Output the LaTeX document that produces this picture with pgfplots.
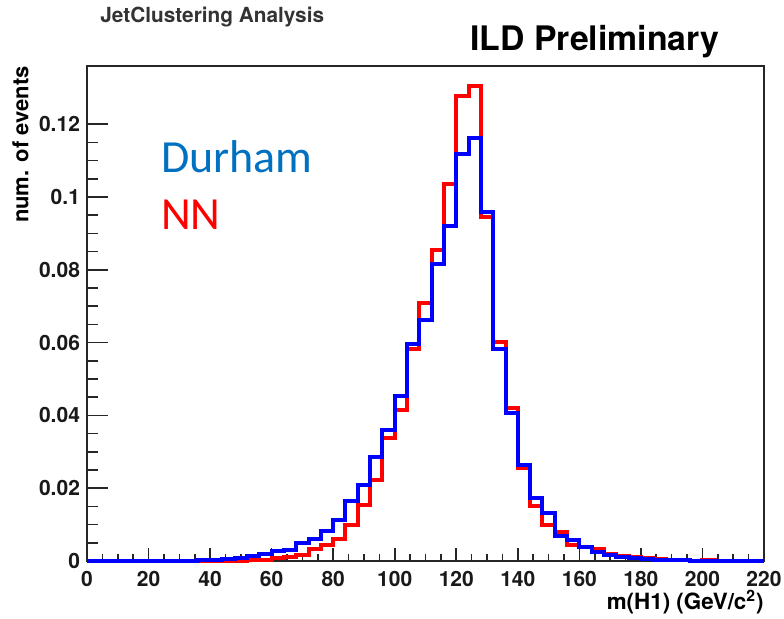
\documentclass[border=0pt]{standalone}
\usepackage{pgfplots}
\pgfplotsset{compat=1.18}
\usepackage{pgfplotstable}
\usepackage{fontspec}
\setmainfont{TeX Gyre Heros}
\newfontfamily\calib{Carlito}
\definecolor{durham}{RGB}{0,112,192}
\definecolor{nnred}{RGB}{255,0,0}
\definecolor{hblue}{RGB}{0,0,255}

\pgfplotstableread{
x red blue
0 0 0
4 0 0
8 0 0
12 0 0
16 0 0
20 0 0
24 0 0
28 0 0.0001
32 0 0.0001
36 0 0.0002
40 0 0.0003
44 0 0.0006
48 0.0001 0.0008
52 0.0003 0.0014
56 0.0004 0.0018
60 0.0008 0.0028
64 0.0011 0.0030
68 0.0016 0.0050
72 0.0033 0.0060
76 0.0044 0.0083
80 0.0060 0.0113
84 0.0099 0.0166
88 0.0154 0.0209
92 0.0223 0.0287
96 0.0338 0.0360
100 0.0415 0.0452
104 0.0582 0.0596
108 0.0709 0.0663
112 0.0855 0.0817
116 0.1036 0.0920
120 0.1277 0.1117
124 0.1304 0.1163
128 0.0945 0.0958
132 0.0603 0.0582
136 0.0420 0.0406
140 0.0256 0.0264
144 0.0151 0.0172
148 0.0099 0.0131
152 0.0081 0.0069
156 0.0044 0.0058
160 0.0038 0.0039
164 0.0032 0.0026
168 0.0019 0.0017
172 0.0015 0.0012
176 0.0011 0.0008
180 0.0007 0.0006
184 0.0005 0.0004
188 0.0003 0.0003
192 0.0002 0.0002
196 0.0001 0.0001
200 0.0002 0.0001
204 0 0
208 0 0
212 0 0
216 0 0
220 0 0
}\histdata

\begin{document}
\begin{tikzpicture}
\useasboundingbox (-43.5pt,-28.5pt) rectangle (348.5pt,280.5pt);
\begin{axis}[
  scale only axis, width=338.5pt, height=247.5pt,
  xmin=0, xmax=220, ymin=0, ymax=0.136,
  xtick={0,20,40,60,80,100,120,140,160,180,200,220},
  ytick={0,0.02,0.04,0.06,0.08,0.1,0.12},
  minor x tick num=3, minor y tick num=3,
  tick align=inside, xtick pos=bottom, ytick pos=left,
  axis line style={line width=1pt, black!85},
  every tick/.style={black!85, line width=0.8pt},
  xtick style={/pgfplots/major tick length=6.5pt,/pgfplots/minor tick length=3.5pt},
  ytick style={/pgfplots/major tick length=10.5pt,/pgfplots/minor tick length=5.5pt},
  scaled y ticks=false,
  yticklabel style={/pgf/number format/fixed,/pgf/number format/precision=2},
  /pgf/number format/assume math mode=true,
  every tick label/.append style={font=\bfseries\fontsize{10.5}{12}\selectfont, text=black!90},
  xticklabel style={anchor=base, yshift=-12.6pt},
  xlabel={m(H1) (GeV/c\textsuperscript{2})},
  xlabel style={at={(axis description cs:1,0)}, anchor=base east, inner sep=0pt, yshift=-24pt, font=\bfseries\fontsize{11.2}{13}\selectfont},
  ylabel={num. of events},
  ylabel style={at={(axis description cs:-0.0867,1)}, anchor=base east, inner sep=0pt, font=\bfseries\fontsize{11}{13}\selectfont},
  clip=false,
]
\addplot[const plot, nnred, line width=2pt] table[x=x, y=red] {\histdata};
\addplot[const plot, hblue, line width=2pt] table[x=x, y=blue] {\histdata};

\node[anchor=base west, inner sep=0pt, text=durham, font=\calib\fontsize{23}{26}\selectfont] at (axis cs:24,0.1067) {Durham};
\node[anchor=base west, inner sep=0pt, text=nnred, font=\calib\fontsize{23}{26}\selectfont] at (axis cs:24,0.0911) {NN};

\node[anchor=base west, inner sep=0pt, text=black!80, font=\bfseries\fontsize{10.4}{12}\selectfont] at (axis description cs:0.0192,1.0869) {JetClustering Analysis};
\node[anchor=base west, inner sep=0pt, text=black, font=\bfseries\fontsize{16.9}{19}\selectfont] at (axis description cs:0.5657,1.0323) {ILD Preliminary};
\end{axis}
\end{tikzpicture}
\end{document}
